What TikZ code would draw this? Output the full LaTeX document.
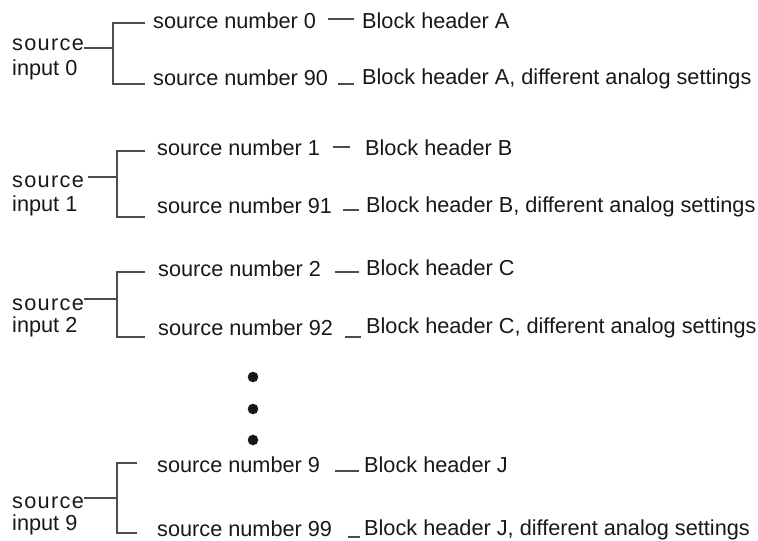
\documentclass[tikz,border=0pt]{standalone}
\usepackage{fontspec}
\setmainfont{Liberation Sans}
\newfontfamily\spacedfont[LetterSpace=6]{Liberation Sans}
\usepackage{xcolor}
\usepackage{tikz}
\definecolor{InkText}{HTML}{1A1718}
\definecolor{InkLine}{HTML}{4D4D4D}
\tikzset{
  lbl/.style={anchor=base west,inner sep=0pt,
    font=\fontsize{21.7}{26}\selectfont,text=InkText},
  srclbl/.style={lbl,font=\fontsize{21.7}{26}\spacedfont},
  wire/.style={draw=InkLine,line width=1.2pt}}
\begin{document}
\begin{tikzpicture}[x=1pt,y=-1pt]
  \useasboundingbox (0,0) rectangle (758,541);
  % source input 0
  \node[srclbl] (src0) at (12,50) {source};
  \node[lbl] (inp0) at (12,75) {input 0};
  \node[lbl] (sn0a) at (153,28) {source number 0};
  \node[lbl] (sn0b) at (153,85) {source number 90};
  \node[lbl] (bh0a) at (362,28) {Block header A};
  \node[lbl] (bh0b) at (362,84) {Block header A, different analog settings};
  \coordinate (br0) at (113,48);
  \draw[wire] ([yshift=2pt]src0.base east) -- (br0);
  \draw[wire] ([xshift=-8pt,yshift=5pt]sn0a.base west) -| (br0)
    |- ([xshift=-8pt,yshift=1pt]sn0b.base west);
  \draw[wire] ([xshift=12pt,yshift=9pt]sn0a.base east) -- ([xshift=-8pt,yshift=9pt]bh0a.base west);
  \draw[wire] ([xshift=10pt,yshift=1pt]sn0b.base east) -- ([xshift=-8pt]bh0b.base west);
  % source input 1
  \node[srclbl] (src1) at (12,187) {source};
  \node[lbl] (inp1) at (12,211) {input 1};
  \node[lbl] (sn1a) at (157,155) {source number 1};
  \node[lbl] (sn1b) at (157,213) {source number 91};
  \node[lbl] (bh1a) at (365,155) {Block header B};
  \node[lbl] (bh1b) at (366,212) {Block header B, different analog settings};
  \coordinate (br1) at (117,177);
  \draw[wire] ([xshift=4pt,yshift=10pt]src1.base east) -- (br1);
  \draw[wire] ([xshift=-12pt,yshift=4pt]sn1a.base west) -| (br1)
    |- ([xshift=-12pt,yshift=-4pt]sn1b.base west);
  \draw[wire] ([xshift=13pt,yshift=8pt]sn1a.base east) -- ([xshift=-15pt,yshift=8pt]bh1a.base west);
  \draw[wire] ([xshift=11pt,yshift=3pt]sn1b.base east) -- ([xshift=-7pt,yshift=2pt]bh1b.base west);
  % source input 2
  \node[srclbl] (src2) at (12,310) {source};
  \node[lbl] (inp2) at (12,332) {input 2};
  \node[lbl] (sn2a) at (158,276) {source number 2};
  \node[lbl] (sn2b) at (158,335) {source number 92};
  \node[lbl] (bh2a) at (366,275) {Block header C};
  \node[lbl] (bh2b) at (366,333) {Block header C, different analog settings};
  \coordinate (br2) at (117,299);
  \draw[wire] ([yshift=11pt]src2.base east) -- (br2);
  \draw[wire] ([xshift=-13pt,yshift=4pt]sn2a.base west) -| (br2)
    |- ([xshift=-13pt,yshift=-2pt]sn2b.base west);
  \draw[wire] ([xshift=14pt,yshift=4pt]sn2a.base east) -- ([xshift=-7pt,yshift=3pt]bh2a.base west);
  \draw[wire] ([xshift=12pt,yshift=-2pt]sn2b.base east) -- ([xshift=-5pt,yshift=-4pt]bh2b.base west);
  % dots
  \fill[InkText] (253,377) circle[radius=5.3pt];
  \fill[InkText] (253,409) circle[radius=5.3pt];
  \fill[InkText] (253,440) circle[radius=5.3pt];
  % source input 9
  \node[srclbl] (src9) at (12,508) {source};
  \node[lbl] (inp9) at (12,530) {input 9};
  \node[lbl] (sn9a) at (157,472) {source number 9};
  \node[lbl] (sn9b) at (157,536) {source number 99};
  \node[lbl] (bh9a) at (364,472) {Block header J};
  \node[lbl] (bh9b) at (364,535) {Block header J, different analog settings};
  \coordinate (br9) at (117,498);
  \draw[wire] ([yshift=10pt]src9.base east) -- (br9);
  \draw[wire] ([xshift=-20pt,yshift=9pt]sn9a.base west) -| (br9)
    |- ([xshift=-20pt,yshift=3pt]sn9b.base west);
  \draw[wire] ([xshift=15pt,yshift=1pt]sn9a.base east) -- ([xshift=-5pt,yshift=1pt]bh9a.base west);
  \draw[wire] ([xshift=16pt,yshift=-1pt]sn9b.base east) -- ([xshift=-4pt,yshift=-2pt]bh9b.base west);
\end{tikzpicture}
\end{document}
